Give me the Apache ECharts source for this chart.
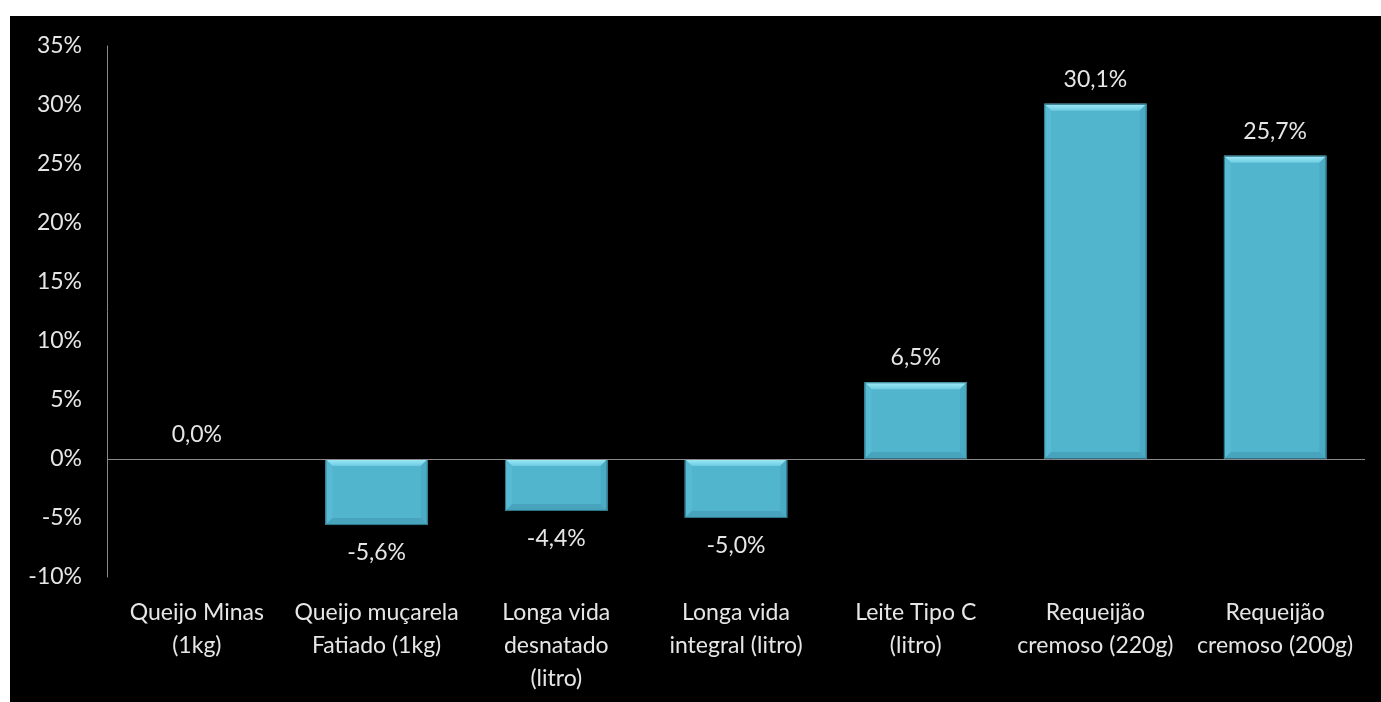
<!DOCTYPE html>
<html>
<head>
<meta charset="utf-8">
<script src="https://cdn.jsdelivr.net/npm/echarts@6/dist/echarts.min.js"></script>
<style>
  html, body { margin: 0; padding: 0; background: #ffffff; }
  #chart { position: absolute; left: 10px; top: 16px; width: 1371px; height: 686px; background: #000000; }
</style>
</head>
<body>
<div id="chart"></div>
<script>
// Price variation by dairy product
const categories = [
  'Queijo Minas\n(1kg)',
  'Queijo muçarela\nFatiado (1kg)',
  'Longa vida\ndesnatado\n(litro)',
  'Longa vida\nintegral (litro)',
  'Leite Tipo C\n(litro)',
  'Requeijão\ncremoso (220g)',
  'Requeijão\ncremoso (200g)'
];
const variation = [0.0, -5.6, -4.4, -5.0, 6.5, 30.1, 25.7];
const yTicks = [-10, -5, 0, 5, 10, 15, 20, 25, 30, 35];

const textColor = '#e6e6e6';
const fontFamily = 'Lato, "Open Sans", sans-serif';
const BAR_RATIO = 0.57;

// bevelled edges drawn over each bar
function renderBevel(params, api) {
  const idx = api.value(0);
  const v = api.value(1);
  if (!v) return null;
  const top = api.coord([idx, Math.max(v, 0)]);
  const bot = api.coord([idx, Math.min(v, 0)]);
  const w = api.size([1, 0])[0] * BAR_RATIO;
  const x0 = top[0] - w / 2, x1 = top[0] + w / 2;
  const y0 = top[1], y1 = bot[1];
  const b = Math.min(7, (y1 - y0) / 2);
  const poly = (pts, fill) => ({ type: 'polygon', shape: { points: pts }, style: { fill: fill } });
  return {
    type: 'group',
    children: [
      poly([[x0, y0], [x1, y0], [x1 - b, y0 + b], [x0 + b, y0 + b]], {
        type: 'linear', x: 0, y: 0, x2: 0, y2: 1,
        colorStops: [{ offset: 0, color: '#a2ecf8' }, { offset: 1, color: '#6ccbe1' }]
      }),
      poly([[x0, y0], [x0 + b, y0 + b], [x0 + b, y1 - b], [x0, y1]], '#59bbd3'),
      poly([[x1, y0], [x1 - b, y0 + b], [x1 - b, y1 - b], [x1, y1]], '#4cabc4'),
      poly([[x0, y1], [x1, y1], [x1 - b, y1 - b], [x0 + b, y1 - b]], '#48a4bc'),
      {
        type: 'rect', shape: { x: x0 + 0.5, y: y0 + 0.5, width: w - 1, height: y1 - y0 - 1 },
        style: { fill: null, stroke: '#2d7385', lineWidth: 1 }
      }
    ]
  };
}

const chart = echarts.init(document.getElementById('chart'));
chart.setOption({
  backgroundColor: '#000000',
  animation: false,
  grid: { left: 97, right: 16, top: 30, bottom: 125 },
  xAxis: {
    type: 'category',
    data: categories,
    position: 'bottom',
    axisLine: { show: false, onZero: false },
    axisTick: { show: false },
    axisLabel: {
      color: textColor, fontFamily: fontFamily, fontSize: 23,
      lineHeight: 33, margin: 19, interval: 0
    }
  },
  yAxis: {
    type: 'value',
    min: yTicks[0], max: yTicks[yTicks.length - 1], interval: 5,
    splitLine: { show: false },
    axisTick: { show: false },
    axisLine: { show: true, lineStyle: { color: '#8a8a8a', width: 1 } },
    axisLabel: {
      color: textColor, fontFamily: fontFamily, fontSize: 23, margin: 25,
      formatter: v => v + '%'
    }
  },
  series: [{
    type: 'bar',
    barWidth: (BAR_RATIO * 100) + '%',
    data: variation.map(v => ({
      value: v,
      label: { position: v < 0 ? 'bottom' : 'top', distance: v < 0 ? 16 : 13 }
    })),
    itemStyle: { color: '#52b5ce', borderWidth: 0 },
    label: {
      show: true, color: textColor, fontFamily: fontFamily, fontSize: 23,
      formatter: p => p.value.toFixed(1).replace('.', ',') + '%'
    },
    markLine: {
      silent: true, symbol: 'none', label: { show: false },
      lineStyle: { color: '#8a8a8a', type: 'solid', width: 1 },
      data: [{ yAxis: 0 }]
    }
  }, {
    type: 'custom',
    renderItem: renderBevel,
    data: variation.map((v, i) => [i, v]),
    encode: { x: 0, y: 1 },
    z: 3,
    silent: true
  }]
});
</script>
</body>
</html>
